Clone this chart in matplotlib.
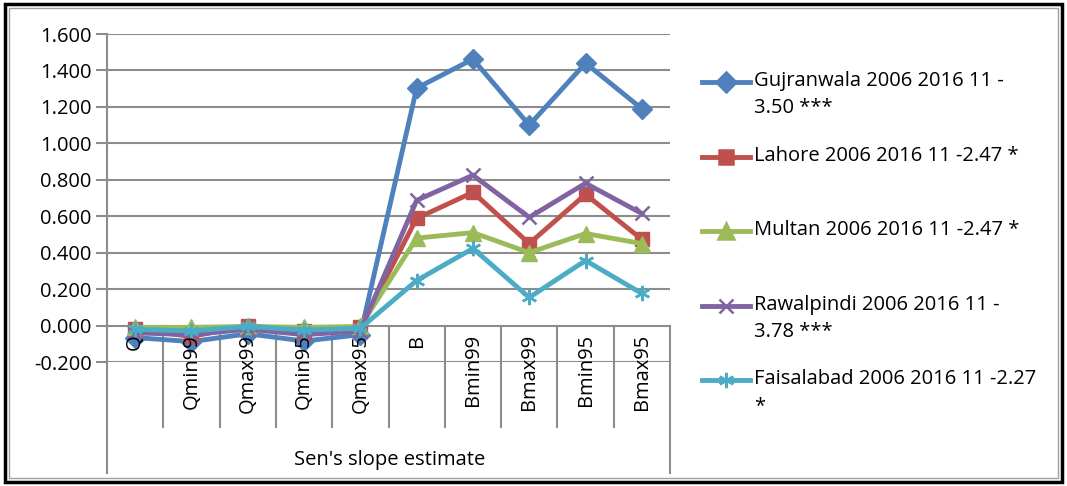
import numpy as np
import matplotlib.pyplot as plt
from matplotlib.lines import Line2D
from matplotlib.patches import Rectangle
import matplotlib.transforms as mtransforms

plt.rcParams['font.family'] = ['Open Sans', 'DejaVu Sans']

categories = ['Q', 'Qmin99', 'Qmax99', 'Qmin95', 'Qmax95',
              'B', 'Bmin99', 'Bmax99', 'Bmin95', 'Bmax95']

gujranwala = [-0.066, -0.088, -0.045, -0.085, -0.050, 1.303, 1.462, 1.100, 1.440, 1.190]
lahore = [-0.020, -0.060, 0.000, -0.030, -0.010, 0.588, 0.731, 0.450, 0.720, 0.473]
multan = [-0.010, -0.010, -0.005, -0.010, -0.005, 0.480, 0.510, 0.400, 0.505, 0.450]
rawalpindi = [-0.040, -0.050, -0.020, -0.050, -0.030, 0.687, 0.825, 0.594, 0.781, 0.615]
faisalabad = [-0.020, -0.030, -0.005, -0.025, -0.015, 0.247, 0.423, 0.154, 0.357, 0.176]

labels = ['Gujranwala 2006 2016 11 -\n3.50 ***',
          'Lahore 2006 2016 11 -2.47 *',
          'Multan 2006 2016 11 -2.47 *',
          'Rawalpindi 2006 2016 11 -\n3.78 ***',
          'Faisalabad 2006 2016 11 -2.27\n*']
series = [gujranwala, lahore, multan, rawalpindi, faisalabad]
colors = ['#4F81BD', '#C0504D', '#9BBB59', '#8064A2', '#4BACC6']
markers = ['D', 's', '^', 'x', (6, 2, 0)]
msizes = [10, 10, 11, 10, 11]

yticks = np.arange(-0.2, 1.61, 0.2)
grid_c = '#8C8C8C'
fs = 14.5

fig = plt.figure(figsize=(10.67, 4.86), dpi=100)
ax = fig.add_axes([107 / 1067, 1 - 362 / 486, 563 / 1067, 328 / 486])

x = np.arange(len(categories))
for vals, c, m, ms in zip(series, colors, markers, msizes):
    thin = m == 'x' or isinstance(m, tuple)
    ax.plot(x, vals, color=c, lw=3.5, marker=m, markersize=ms,
            markeredgecolor=c, markeredgewidth=1.8 if thin else 1,
            solid_joinstyle='miter', zorder=3)

ax.set_xlim(-0.5, len(categories) - 0.5)
ax.set_ylim(-0.2, 1.6)
ax.set_yticks(yticks)
ax.set_yticklabels(['%.3f' % v for v in yticks], fontsize=fs)
ax.yaxis.grid(True, color=grid_c, lw=1.5, zorder=0)
ax.tick_params(axis='y', length=8, width=1.5, color=grid_c, pad=3)
ax.set_xticks([])
for s in ax.spines.values():
    s.set_visible(False)

# y axis line extended down to the category box
ax.add_line(Line2D([0, 0], [1.0, -0.338], transform=ax.transAxes,
                   color=grid_c, lw=1.5, clip_on=False, zorder=1))
# right side of category box
ax.add_line(Line2D([1, 1], [0.111, -0.338], transform=ax.transAxes,
                   color=grid_c, lw=1.5, clip_on=False, zorder=1))
# category separators
trans = mtransforms.blended_transform_factory(ax.transData, ax.transAxes)
for i in range(1, len(categories)):
    ax.add_line(Line2D([i - 0.5, i - 0.5], [0.111, -0.198], transform=trans,
                       color=grid_c, lw=1.5, clip_on=False, zorder=1))

# category labels hanging under the zero line
for i, c in enumerate(categories):
    ax.annotate(c, xy=(i, 0), xytext=(0, -6), textcoords='offset points',
                rotation=90, ha='center', va='top', fontsize=fs, zorder=4)

fig.text(390 / 1067, 1 - 460 / 486, "Sen's slope estimate", ha='center',
         va='center', fontsize=fs)

# legend drawn by hand
leg_y = [82, 157, 231, 306, 380]
for yy, lab, c, m, ms in zip(leg_y, labels, colors, markers, msizes):
    fy = 1 - yy / 486
    fig.add_artist(Line2D([702 / 1067, 750 / 1067], [fy, fy], color=c, lw=3.5))
    fig.add_artist(Line2D([726 / 1067], [fy], color=c, marker=m, markersize=ms,
                          markeredgecolor=c, markeredgewidth=1.8))
    fig.text(754 / 1067, fy + 11 / 486, lab, ha='left', va='top', fontsize=fs,
             linespacing=1.45)

# outer border
fig.add_artist(Rectangle((5 / 1067, 4 / 486), 1057 / 1067, 478 / 486,
                         transform=fig.transFigure, fill=False,
                         edgecolor='black', lw=2.5))
fig.add_artist(Rectangle((9 / 1067, 8 / 486), 1049 / 1067, 470 / 486,
                         transform=fig.transFigure, fill=False,
                         edgecolor='#A0A0A0', lw=1))

fig.savefig('out.png', dpi=100)
